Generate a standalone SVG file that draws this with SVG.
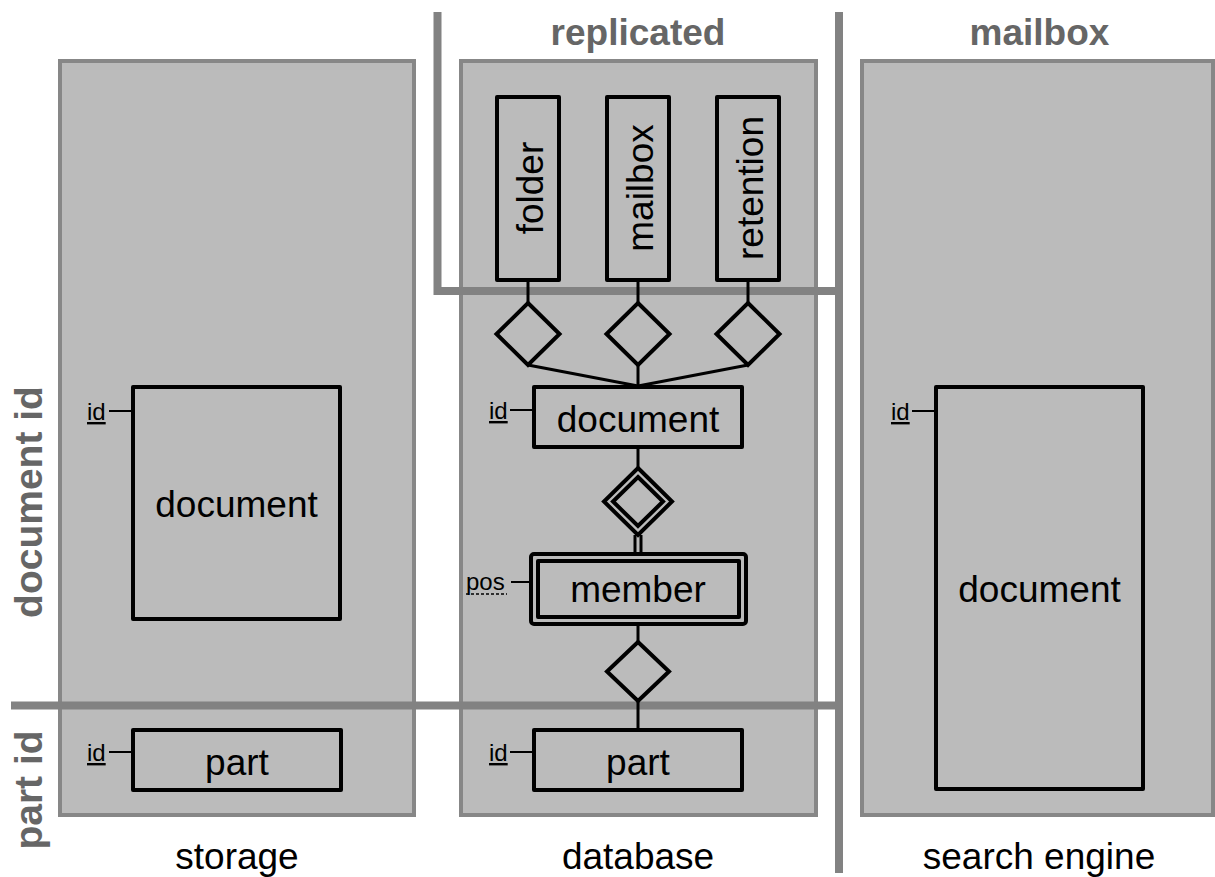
<svg xmlns="http://www.w3.org/2000/svg" width="1215" height="877" viewBox="0 0 1215 877">
  <style>
    .panel { fill: #bbbbbb; stroke: #878787; stroke-width: 4; }
    .sep { stroke: #828282; stroke-width: 8; fill: none; }
    .ent { fill: none; stroke: #000; stroke-width: 4; stroke-linejoin: round; }
    .rel { fill: none; stroke: #000; stroke-width: 4; stroke-linejoin: miter; }
    .link { stroke: #000; stroke-width: 3; fill: none; }
    .attr { stroke: #000; stroke-width: 2; fill: none; }
    .lbl { font-family: "Liberation Sans", Arial, sans-serif; font-size: 37px; fill: #000; }
    .head { font-family: "Liberation Sans", Arial, sans-serif; font-size: 37px; font-weight: bold; fill: #666666; }
    .side { font-size: 39px; }
    .key { font-family: "Liberation Sans", Arial, sans-serif; font-size: 24px; fill: #000; text-decoration: underline; }
    .pk { font-family: "Liberation Sans", Arial, sans-serif; font-size: 24px; fill: #000; }
  </style>
  <rect width="1215" height="877" fill="#ffffff"/>

  <!-- system panels -->
  <g id="storage-panel">
    <rect class="panel" x="60" y="61" width="354" height="754"/>
    <text class="lbl" x="237" y="869" text-anchor="middle">storage</text>
  </g>
  <g id="database-panel">
    <rect class="panel" x="461" y="61" width="355" height="754"/>
    <text class="lbl" x="638" y="869" text-anchor="middle">database</text>
  </g>
  <g id="search-panel">
    <rect class="panel" x="862" y="61" width="351" height="754"/>
    <text class="lbl" x="1039" y="869" text-anchor="middle">search engine</text>
  </g>

  <!-- partitioning boundaries -->
  <g id="boundaries">
    <path class="sep" d="M437.5,12 V291 H839"/>
    <path class="sep" d="M839,12 V873"/>
    <path class="sep" d="M11,705.5 H839"/>
    <text class="head" x="638" y="45" text-anchor="middle">replicated</text>
    <text class="head" x="1039.5" y="45" text-anchor="middle">mailbox</text>
    <text class="head side" transform="translate(42,502) rotate(-90)" text-anchor="middle">document id</text>
    <text class="head side" transform="translate(42,790) rotate(-90)" text-anchor="middle">part id</text>
  </g>

  <!-- connectors -->
  <g id="connectors">
    <line class="link" x1="528" y1="280" x2="528" y2="303"/>
    <line class="link" x1="638" y1="280" x2="638" y2="303"/>
    <line class="link" x1="748" y1="280" x2="748" y2="303"/>
    <line class="link" x1="528" y1="365" x2="638" y2="386"/>
    <line class="link" x1="638" y1="365" x2="638" y2="386"/>
    <line class="link" x1="748" y1="365" x2="638" y2="386"/>
    <line class="link" x1="638" y1="447" x2="638" y2="468"/>
    <line class="link" x1="635" y1="535" x2="635" y2="554"/>
    <line class="link" x1="641" y1="535" x2="641" y2="554"/>
    <line class="link" x1="638" y1="624" x2="638" y2="642"/>
    <line class="link" x1="638" y1="701" x2="638" y2="729"/>
  </g>

  <!-- storage entities -->
  <g id="storage-document">
    <rect class="ent" x="133" y="387" width="207" height="232"/>
    <line class="attr" x1="109" y1="411" x2="133" y2="411"/>
    <text class="key" x="87" y="420">id</text>
    <text class="lbl" x="236.5" y="517" text-anchor="middle">document</text>
  </g>
  <g id="storage-part">
    <rect class="ent" x="133" y="730" width="208" height="60"/>
    <line class="attr" x1="109" y1="752" x2="133" y2="752"/>
    <text class="key" x="87" y="761">id</text>
    <text class="lbl" x="237" y="775" text-anchor="middle">part</text>
  </g>

  <!-- replicated lookup entities -->
  <g id="folder">
    <rect class="ent" x="497" y="97" width="62" height="183"/>
    <text class="lbl" transform="translate(542.5,188) rotate(-90)" text-anchor="middle">folder</text>
    <path class="rel" d="M528,303 L559.5,334 L528,365 L496.5,334 Z"/>
  </g>
  <g id="mailbox">
    <rect class="ent" x="607" y="97" width="62" height="183"/>
    <text class="lbl" transform="translate(652.5,188) rotate(-90)" text-anchor="middle">mailbox</text>
    <path class="rel" d="M638,303 L669.5,334 L638,365 L606.5,334 Z"/>
  </g>
  <g id="retention">
    <rect class="ent" x="717" y="97" width="62" height="183"/>
    <text class="lbl" transform="translate(762.5,188) rotate(-90)" text-anchor="middle">retention</text>
    <path class="rel" d="M748,303 L779.5,334 L748,365 L716.5,334 Z"/>
  </g>

  <!-- database entities -->
  <g id="database-document">
    <rect class="ent" x="534" y="387" width="208" height="60"/>
    <line class="attr" x1="510" y1="410" x2="534" y2="410"/>
    <text class="key" x="489" y="419">id</text>
    <text class="lbl" x="638" y="432" text-anchor="middle">document</text>
  </g>
  <g id="membership">
    <path class="rel" d="M638,468 L672,501.5 L638,535 L604,501.5 Z"/>
    <path class="rel" stroke-width="3" d="M638,477 L663,501.5 L638,526 L613,501.5 Z"/>
  </g>
  <g id="member">
    <rect class="ent" x="531" y="554" width="215" height="70" rx="3"/>
    <rect class="ent" x="538" y="561" width="201" height="56"/>
    <line class="attr" x1="511" y1="582" x2="531" y2="582"/>
    <text class="pk" x="466" y="590">pos</text>
    <line x1="466" y1="594" x2="507" y2="594" stroke="#000" stroke-width="1.5" stroke-dasharray="3,2"/>
    <text class="lbl" x="638" y="602" text-anchor="middle">member</text>
  </g>
  <g id="part-link">
    <path class="rel" d="M638,642 L669,671.5 L638,701 L607,671.5 Z"/>
  </g>
  <g id="database-part">
    <rect class="ent" x="534" y="730" width="208" height="60"/>
    <line class="attr" x1="510" y1="752" x2="534" y2="752"/>
    <text class="key" x="489" y="761">id</text>
    <text class="lbl" x="638" y="775" text-anchor="middle">part</text>
  </g>

  <!-- search engine entity -->
  <g id="search-document">
    <rect class="ent" x="936" y="387" width="207" height="402"/>
    <line class="attr" x1="912" y1="411" x2="936" y2="411"/>
    <text class="key" x="891" y="420">id</text>
    <text class="lbl" x="1039.5" y="602" text-anchor="middle">document</text>
  </g>
</svg>
